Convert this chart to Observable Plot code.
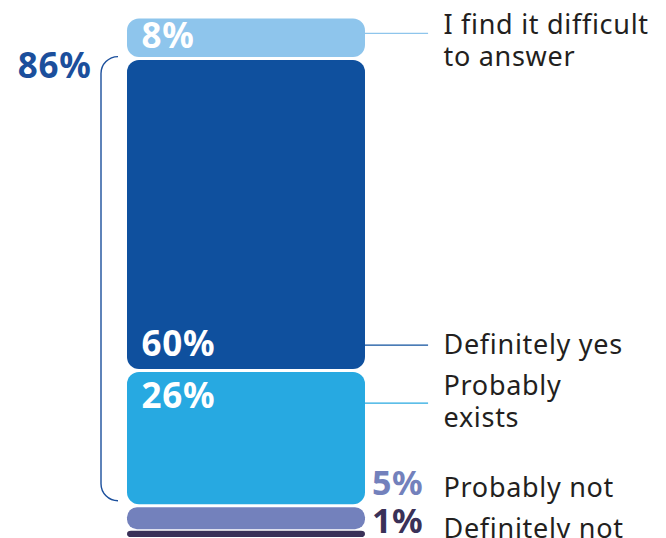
<!DOCTYPE html>
<html><head><meta charset="utf-8">
<script src="https://cdn.jsdelivr.net/npm/d3@7"></script>
<script src="https://cdn.jsdelivr.net/npm/@observablehq/plot@0.6"></script>
<style>
html,body{margin:0;padding:0;background:#fff;}
#chart svg text{letter-spacing:0.7px}
</style></head><body><div id="chart"></div>
<script>
// ---- data (bottom to top of the stacked bar) ----
const categories = ["Definitely not", "Probably not", "Probably exists", "Definitely yes", "I find it difficult to answer"];
const values = [1, 5, 26, 60, 8];
const rightLabels = ["Definitely not", "Probably not", "Probably\nexists", "Definitely yes", "I find it difficult\nto answer"];
const palette = ["#3a3158", "#7381bc", "#27a9e1", "#0f509e", "#8ec5ec"];
const bracketGroup = ["Probably exists", "Definitely yes"];

// ---- derived table ----
let acc = 0;
const table = categories.map((c, i) => {
  const y1 = acc; acc += values[i];
  return {cat: c, value: values[i], y1, y2: acc, mid: (y1 + acc) / 2, label: rightLabels[i], pct: values[i] + "%", color: palette[i]};
});
const by = Object.fromEntries(table.map(d => [d.cat, d]));
const bottomCat = categories[0];
const secondCat = categories[1];
const bracketRows = table.filter(d => bracketGroup.includes(d.cat));
const bracketTotal = d3.sum(bracketRows, d => d.value);
const bracketTop = d3.max(bracketRows, d => d.y2);
const bracketBottom = d3.min(bracketRows, d => d.y1);

const TEXT = "#231f20";
const X_LEADER_END = 1.265;
const FONT = "Noto Sans";

const inBar = (d, yField, dy) => Plot.text([d], {
  x: 0, y: yField, text: "pct", dx: 14, dy, textAnchor: "start", lineAnchor: "middle",
  fill: "white", fontWeight: "bold", fontSize: 35
});
const leader = (d, yField, dy) => Plot.ruleY([d], {
  y: yField, x1: 1, x2: X_LEADER_END, stroke: d.color, strokeWidth: 1.3, dy
});
const rightText = (d, yField, dy) => Plot.text([d], {
  x: 1, y: yField, text: "label", dx: 78, dy, textAnchor: "start", lineAnchor: "middle",
  fill: TEXT, fontSize: 27, lineHeight: 1.185
});
const sidePct = (d, yField, dy) => Plot.text([d], {
  x: 1, y: yField, text: "pct", dx: 58, dy, textAnchor: "end", lineAnchor: "middle",
  fill: d.color, fontWeight: "bold", fontSize: 34
});

const bracket = (index, scales) => {
  const x = scales.x(0) - 26;
  const xe = scales.x(0) - 9;
  const yt = scales.y(bracketTop) - 2;
  const yb = scales.y(bracketBottom) - 5;
  const r = 17;
  return d3.create("svg:path")
    .attr("fill", "none").attr("stroke", "#1b4f9c").attr("stroke-width", 1.4)
    .attr("d", `M${xe},${yt} A${r},${r} 0 0 0 ${x},${yt + r} V${yb - r} A${r},${r} 0 0 0 ${xe},${yb}`)
    .node();
};

const chart = Plot.plot({
  width: 666, height: 538,
  marginTop: 17, marginBottom: 1, marginLeft: 127, marginRight: 301,
  style: {fontFamily: FONT, background: "white", overflow: "visible"},
  x: {axis: null, domain: [0, 1]},
  y: {axis: null, domain: [0, 100]},
  color: {domain: categories, range: palette},
  marks: [
    Plot.rect(table.filter(d => d.cat !== bottomCat && d.cat !== secondCat), {x1: 0, x2: 1, y1: "y1", y2: "y2", fill: "cat", rx: 12, insetTop: 1.5, insetBottom: 1.5}),
    Plot.rect(table.filter(d => d.cat === secondCat), {x1: 0, x2: 1, y1: "y1", y2: "y2", fill: "cat", rx: 10, insetTop: 1.5, insetBottom: 2.5}),
    Plot.rect(table.filter(d => d.cat === bottomCat), {x1: 0, x2: 1, y1: "y1", y2: "y2", fill: "cat", rx: 4, insetTop: -1, insetBottom: 0}),
    inBar(by["I find it difficult to answer"], "mid", -2),
    inBar(by["Definitely yes"], "y1", -26),
    inBar(by["Probably exists"], "y2", 26),
    leader(by["I find it difficult to answer"], "mid", -5),
    leader(by["Definitely yes"], "y1", -26),
    leader(by["Probably exists"], "y2", 32),
    rightText(by["I find it difficult to answer"], "mid", 1),
    rightText(by["Definitely yes"], "y1", -27),
    rightText(by["Probably exists"], "y2", 30),
    rightText(by["Probably not"], "mid", -33),
    rightText(by["Definitely not"], "mid", -7),
    sidePct(by["Probably not"], "mid", -35),
    sidePct(by["Definitely not"], "mid", -13),
    bracket,
    Plot.text([{t: bracketTotal + "%", y: bracketTop}], {
      x: 0, y: "y", text: "t", dx: -36, dy: 8, textAnchor: "end", lineAnchor: "middle",
      fill: "#1b4f9c", fontWeight: "bold", fontSize: 35
    })
  ]
});
document.getElementById("chart").append(chart);
</script></body></html>
